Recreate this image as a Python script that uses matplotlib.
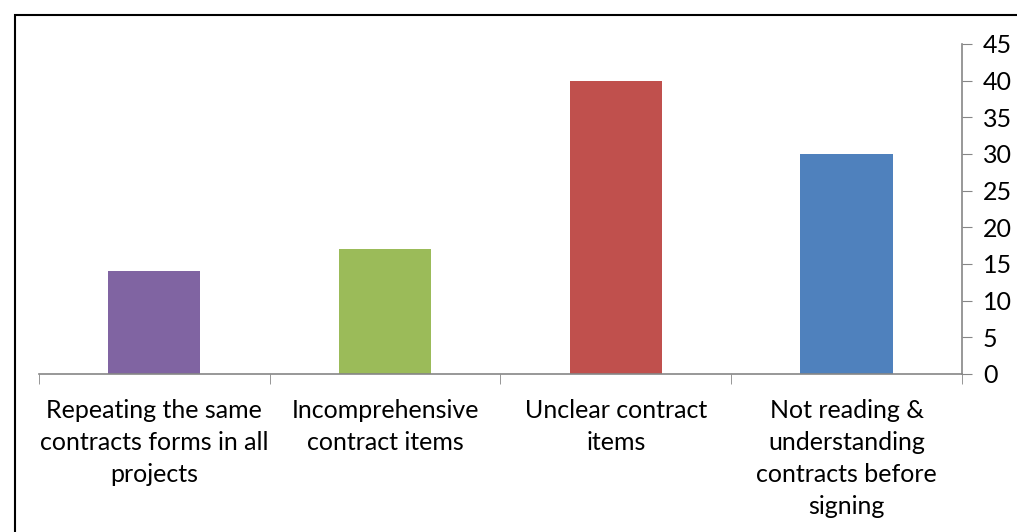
import matplotlib.pyplot as plt
from matplotlib.patches import Rectangle
from matplotlib.ticker import FixedLocator, MultipleLocator

categories = [
    'Repeating the same\ncontracts forms in all\nprojects',
    'Incomprehensive\ncontract items',
    'Unclear contract\nitems',
    'Not reading &\nunderstanding\ncontracts before\nsigning',
]
values = [14, 17, 40, 30]
colors = ['#8064A2', '#9BBB59', '#C0504D', '#4F81BD']

plt.rcParams['font.family'] = ['Lato', 'DejaVu Sans']
axis_grey = '#868686'

fig = plt.figure(figsize=(10.17, 5.32), dpi=100)
ax = fig.add_axes([0.0383, 0.297, 0.9076, 0.6203])

x = range(len(values))
ax.bar(x, values, width=0.40, color=colors)

ax.set_xlim(-0.5, len(values) - 0.5)
ax.set_ylim(0, 45)

ax.yaxis.tick_right()
ax.yaxis.set_major_locator(MultipleLocator(5))
ax.tick_params(axis='y', direction='out', length=7, color=axis_grey,
               labelsize=18, pad=8)

ax.set_xticks(list(x))
ax.set_xticklabels(categories, fontsize=18, linespacing=1.48)
ax.xaxis.set_minor_locator(FixedLocator([i - 0.5 for i in range(len(values) + 1)]))
ax.tick_params(axis='x', which='major', length=0, pad=18)
ax.tick_params(axis='x', which='minor', direction='out', length=7, color=axis_grey)

for side in ('left', 'top'):
    ax.spines[side].set_visible(False)
for side in ('right', 'bottom'):
    ax.spines[side].set_color(axis_grey)
    ax.spines[side].set_linewidth(1.2)

# outer frame, open at the right and bottom edge
fig.patches.append(Rectangle((15 / 1017, -0.2), 1.2, 1.2 - 15 / 532,
                             transform=fig.transFigure, fill=False,
                             edgecolor='black', linewidth=1.5))

fig.savefig('out.png', dpi=100)
